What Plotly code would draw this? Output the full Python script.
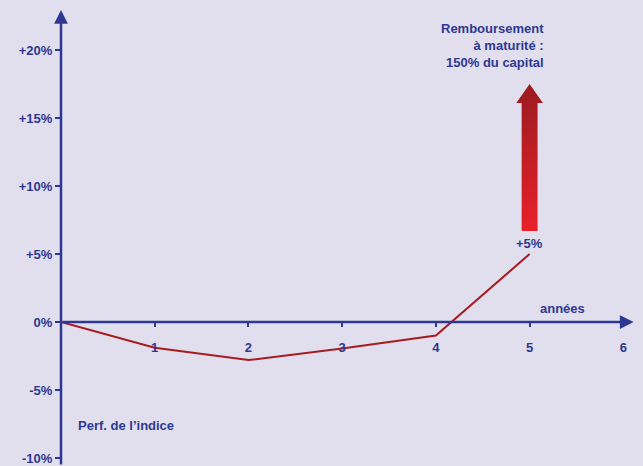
import plotly.graph_objects as go

# ---- data ----
years = [0, 1, 2, 3, 4, 5]
perf = [0.0, -1.9, -2.8, -1.95, -1.0, 5.0]

y_tickvals = [-10, -5, 0, 5, 10, 15, 20]
y_ticktext = ["-10%", "-5%", "0%", "+5%", "+10%", "+15%", "+20%"]
x_tickvals = [1, 2, 3, 4, 5, 6]
x_ticktext = ["1", "2", "3", "4", "5", "6"]

final_label = "+5%"
arrow_x = 5
arrow_bottom = 6.7
arrow_neck = 16.1
arrow_tip = 17.5
redemption_text = "Remboursement<br>à maturité :<br>150% du capital"

NAVY = "#2e3892"
RED = "#a61c22"
BG = "#e1dfed"
FONT = "Liberation Sans"

x_range = [0, 6.21]
y_range = [-10.59, 23.68]

fig = go.Figure()

# gradient arrow (polygon in data units)
sw, hw = 0.085, 0.142
ax_pts = [arrow_x - sw, arrow_x + sw, arrow_x + sw, arrow_x + hw, arrow_x,
          arrow_x - hw, arrow_x - sw, arrow_x - sw]
ay_pts = [arrow_bottom, arrow_bottom, arrow_neck, arrow_neck, arrow_tip,
          arrow_neck, arrow_neck, arrow_bottom]
fig.add_trace(go.Scatter(
    x=ax_pts, y=ay_pts, mode="lines", fill="toself",
    line=dict(width=0, color="rgba(0,0,0,0)"),
    fillgradient=dict(type="vertical", start=arrow_bottom, stop=arrow_tip,
                      colorscale=[[0, "#e8202a"], [1, "#9a1b20"]]),
    hoverinfo="skip", showlegend=False))

# performance line
fig.add_trace(go.Scatter(
    x=years, y=perf, mode="lines",
    line=dict(color=RED, width=2), showlegend=False, cliponaxis=False))

# axis lines with arrowheads
fig.add_annotation(x=6.11, y=0, ax=0, ay=0, xref="x", yref="y", axref="x", ayref="y",
                   text="", showarrow=True, arrowhead=2, arrowsize=1.1,
                   arrowwidth=2.5, arrowcolor=NAVY, standoff=0, startstandoff=0)
fig.add_annotation(x=0, y=22.95, ax=0, ay=y_range[0], xref="x", yref="y", axref="x", ayref="y",
                   text="", showarrow=True, arrowhead=2, arrowsize=1.1,
                   arrowwidth=2.5, arrowcolor=NAVY, standoff=0, startstandoff=0)

BOLD = dict(family=FONT, size=13, color=NAVY, weight="bold")

# texts
fig.add_annotation(x=arrow_x, y=arrow_bottom, xref="x", yref="y", text=final_label,
                   showarrow=False, yanchor="top", yshift=-3, font=BOLD)
fig.add_annotation(x=5.18, y=22.55, xref="x", yref="y", text=redemption_text,
                   showarrow=False, xanchor="right", yanchor="top", align="right",
                   yshift=-4, font=BOLD)
fig.add_annotation(x=5.35, y=0, xref="x", yref="y", text="années",
                   showarrow=False, yanchor="bottom", yshift=4, font=BOLD)
fig.add_annotation(x=0.16, y=-7.6, xref="x", yref="y", text="Perf. de l’indice",
                   showarrow=False, xanchor="left", font=BOLD)

zero_pos = (0 - y_range[0]) / (y_range[1] - y_range[0])

fig.update_layout(
    width=643, height=466,
    margin=dict(l=61, r=0, t=0, b=0),
    paper_bgcolor=BG, plot_bgcolor=BG,
    font=dict(family=FONT, size=13, color=NAVY),
    xaxis=dict(range=x_range, tickvals=x_tickvals, ticktext=x_ticktext,
               showgrid=False, zeroline=False, showline=False,
               ticks="outside", ticklen=4, tickwidth=2, tickcolor=NAVY,
               anchor="free", position=zero_pos, ticklabelstandoff=9,
               tickfont=BOLD),
    yaxis=dict(range=y_range, tickvals=y_tickvals, ticktext=y_ticktext,
               showgrid=False, zeroline=False, showline=False,
               ticks="outside", ticklen=5, tickwidth=2, tickcolor=NAVY,
               tickfont=BOLD),
)

fig.write_html("out.html", config={"displayModeBar": False},
               post_script="document.body.style.margin='0';")
